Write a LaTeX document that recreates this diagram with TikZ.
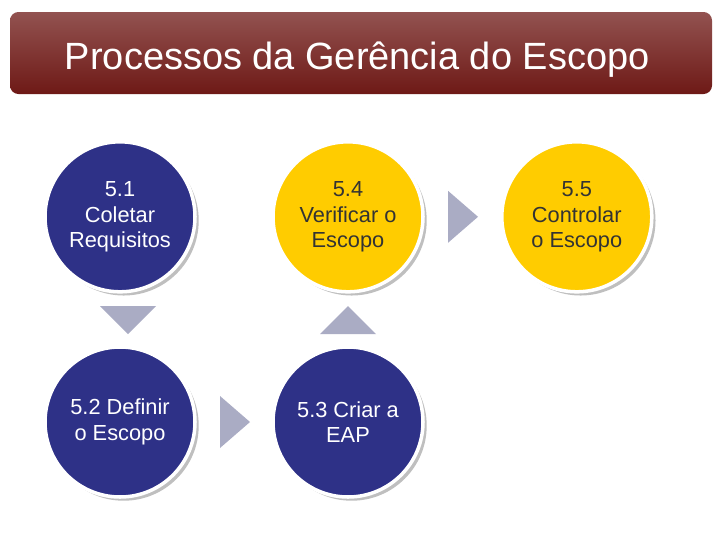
\documentclass[tikz,border=0pt]{standalone}
\usepackage{fontspec}
\setmainfont{Liberation Sans}
\usetikzlibrary{shadows}
\definecolor{navy}{RGB}{46,49,135}
\definecolor{gold}{RGB}{255,204,0}
\definecolor{barred}{RGB}{110,25,22}
\definecolor{arrowgray}{RGB}{170,172,196}
\tikzset{
    proc/.style={circle,minimum size=3.75cm,draw=white,line width=2.5pt,
        align=center,font=\fontsize{15.5}{18}\selectfont,drop shadow},
    blue/.style={proc,fill=navy,text=white},
    yellow/.style={proc,fill=gold,text=black!80},
    tri/.style={fill=arrowgray}
}
\begin{document}
\begin{tikzpicture}
    \useasboundingbox[fill=white] (0,0) rectangle (18,-13.5);
    \shade[top color=barred!75,bottom color=barred,rounded corners=6pt]
        (0.25,-0.3) rectangle (17.8,-2.35);
    \node[text=white,anchor=west,font=\fontsize{27}{31}\selectfont]
        (title) at (1.5,-1.5) {Processos da Gerência do Escopo};

    \node[blue] (c1) at (3,-5.42) {5.1\\Coletar\\Requisitos};
    \node[yellow] (c4) at (8.7,-5.42) {5.4\\Verificar o\\Escopo};
    \node[yellow] (c5) at (14.42,-5.42) {5.5\\Controlar\\o Escopo};
    \node[blue] (c2) at (3,-10.55) {5.2 Definir\\o Escopo};
    \node[blue] (c3) at (8.7,-10.55) {5.3 Criar a\\EAP};

    % arrows between the steps
    \fill[tri] (2.5,-7.65) -- (3.9,-7.65) -- (3.2,-8.35) -- cycle;
    \fill[tri] (8,-8.35) -- (9.4,-8.35) -- (8.7,-7.65) -- cycle;
    \fill[tri] (5.5,-9.9) -- (5.5,-11.2) -- (6.25,-10.55) -- cycle;
    \fill[tri] (11.2,-4.77) -- (11.2,-6.07) -- (11.95,-5.42) -- cycle;
\end{tikzpicture}
\end{document}
